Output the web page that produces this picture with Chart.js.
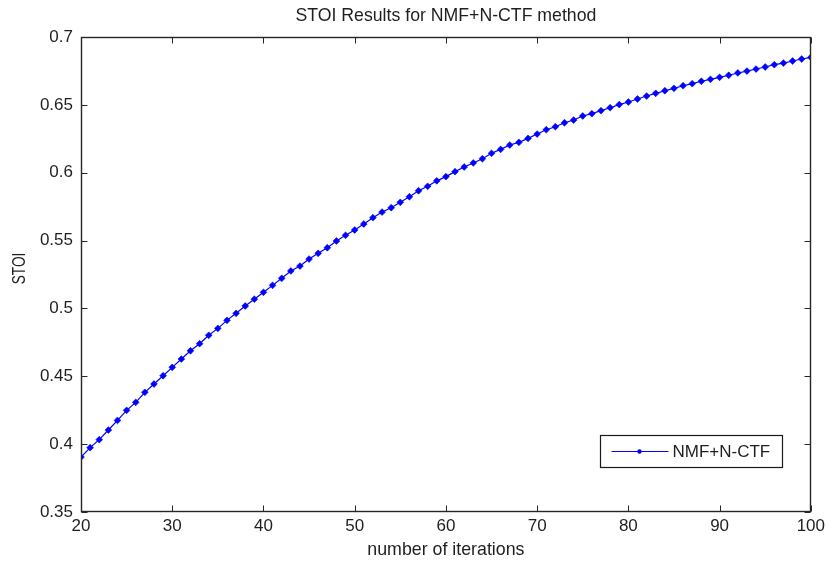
<!DOCTYPE html>
<html>
<head>
<meta charset="utf-8">
<script src="https://cdn.jsdelivr.net/npm/chart.js@4/dist/chart.umd.min.js"></script>
<style>
  html, body { margin: 0; padding: 0; background: #ffffff; }
  #wrap { width: 829px; height: 567px; }
</style>
</head>
<body>
<div id="wrap"><canvas id="c" width="829" height="567"></canvas></div>
<script>
const iterations = [20,21,22,23,24,25,26,27,28,29,30,31,32,33,34,35,36,37,38,39,40,41,42,43,44,45,46,47,48,49,50,51,52,53,54,55,56,57,58,59,60,61,62,63,64,65,66,67,68,69,70,71,72,73,74,75,76,77,78,79,80,81,82,83,84,85,86,87,88,89,90,91,92,93,94,95,96,97,98,99,100];
const stoiValues = [0.3905,0.3974,0.4033,0.4104,0.4175,0.4249,0.4308,0.4382,0.4443,0.4504,
  0.4566,0.4627,0.4688,0.4740,0.4802,0.4853,0.4912,0.4964,0.5018,0.5068,
  0.5119,0.5170,0.5222,0.5276,0.5312,0.5364,0.5406,0.5447,0.5497,0.5539,
  0.5578,0.5622,0.5669,0.5710,0.5742,0.5782,0.5823,0.5867,0.5900,0.5940,
  0.5971,0.6008,0.6042,0.6072,0.6103,0.6143,0.6172,0.6204,0.6224,0.6253,
  0.6285,0.6317,0.6339,0.6368,0.6388,0.6418,0.6435,0.6457,0.6479,0.6502,
  0.6521,0.6543,0.6565,0.6585,0.6604,0.6622,0.6641,0.6656,0.6674,0.6688,
  0.6703,0.6718,0.6735,0.6749,0.6764,0.6779,0.6796,0.6808,0.6823,0.6838,
  0.6850];
const xTicks = [20,30,40,50,60,70,80,90,100];
const yTicks = [0.35,0.4,0.45,0.5,0.55,0.6,0.65,0.7];
const seriesLabel = 'NMF+N-CTF';
const chartTitle = 'STOI Results for NMF+N-CTF method';
const xTitle = 'number of iterations';
const yTitle = 'STOI';

const FONT = 'Arial, "Liberation Sans", Helvetica, sans-serif';
const TEXT = '#1f1f1f';
const AXIS = '#262626';

const points = iterations.map((x, i) => ({ x: x, y: stoiValues[i] }));

const boxPlugin = {
  id: 'matlabBox',
  afterDraw(chart) {
    const ctx = chart.ctx;
    const a = chart.chartArea;
    const xs = chart.scales.x, ys = chart.scales.y;
    const L = Math.round(a.left) + 0.5, R = Math.round(a.right) - 0.5;
    const T = Math.round(a.top) + 0.5, B = Math.round(a.bottom) - 0.5;
    const tl = 6;
    ctx.save();
    // title centred over the axes
    ctx.fillStyle = TEXT;
    ctx.font = '17.7px ' + FONT;
    ctx.textAlign = 'center';
    ctx.textBaseline = 'middle';
    ctx.fillText(chartTitle, (a.left + a.right) / 2, a.top - 21);

    // y-axis title (rotated)
    ctx.save();
    ctx.translate(20, (a.top + a.bottom) / 2 - 6);
    ctx.rotate(-Math.PI / 2);
    ctx.scale(0.78, 1);
    ctx.font = '17.5px ' + FONT;
    ctx.fillText(yTitle, 0, 0);
    ctx.restore();

    ctx.strokeStyle = AXIS;
    ctx.lineWidth = 1;
    ctx.beginPath();
    xTicks.forEach(v => {
      const px = Math.round(xs.getPixelForValue(v)) + 0.5;
      ctx.moveTo(px, B); ctx.lineTo(px, B - tl);
      ctx.moveTo(px, T); ctx.lineTo(px, T + tl);
    });
    yTicks.forEach(v => {
      const py = Math.round(ys.getPixelForValue(v)) + 0.5;
      ctx.moveTo(L, py); ctx.lineTo(L + tl, py);
      ctx.moveTo(R, py); ctx.lineTo(R - tl, py);
    });
    ctx.stroke();
    ctx.lineWidth = 1.4;
    ctx.strokeRect(L, T, R - L, B - T);

    // legend box inside the axes (lower right)
    const ds = chart.data.datasets[0];
    const bw = 182, bh = 32;
    const bx = Math.round(a.right) - 29 - bw + 0.5;
    const by = Math.round(a.bottom) - 45 - bh + 0.5;
    ctx.fillStyle = '#ffffff';
    ctx.fillRect(bx, by, bw, bh);
    ctx.lineWidth = 1.2;
    ctx.strokeStyle = '#1a1a1a';
    ctx.strokeRect(bx, by, bw, bh);
    const cy = by + bh / 2;
    ctx.strokeStyle = ds.borderColor;
    ctx.lineWidth = 1;
    ctx.beginPath();
    ctx.moveTo(bx + 11, cy); ctx.lineTo(bx + 68, cy);
    ctx.stroke();
    ctx.fillStyle = ds.pointBackgroundColor;
    ctx.beginPath(); ctx.arc(bx + 39, cy, 2.2, 0, Math.PI * 2); ctx.fill();
    ctx.fillStyle = TEXT;
    ctx.font = '17px ' + FONT;
    ctx.textAlign = 'left';
    ctx.textBaseline = 'middle';
    ctx.fillText(ds.label, bx + 72, cy + 1);
    ctx.restore();
  }
};

new Chart(document.getElementById('c'), {
  type: 'line',
  data: {
    datasets: [{
      label: seriesLabel,
      data: points,
      borderColor: '#0000ff',
      backgroundColor: '#0000ff',
      pointBackgroundColor: '#0000ff',
      pointBorderColor: '#0000ff',
      borderWidth: 1.2,
      pointStyle: 'rectRot',
      pointRadius: 3.4,
      pointBorderWidth: 0.6,
      tension: 0,
      fill: false
    }]
  },
  options: {
    responsive: false,
    devicePixelRatio: 1,
    animation: false,
    events: [],
    layout: { padding: { left: 0, right: 17, top: 37, bottom: 0 } },
    plugins: {
      legend: { display: false },
      tooltip: { enabled: false },
      title: { display: false }
    },
    scales: {
      x: {
        type: 'linear',
        min: 20, max: 100,
        afterBuildTicks(s) { s.ticks = xTicks.map(v => ({ value: v })); },
        afterFit(s) { s.height = 55; },
        grid: { display: false, drawTicks: false },
        border: { display: false },
        ticks: {
          color: TEXT, padding: 4, maxRotation: 0, autoSkip: false,
          font: { family: FONT, size: 17 },
          callback: v => String(v)
        },
        title: {
          display: true, text: xTitle, color: TEXT,
          font: { family: FONT, size: 17.8 },
          padding: { top: 0, bottom: 6 }
        }
      },
      y: {
        type: 'linear',
        min: 0.35, max: 0.7,
        afterBuildTicks(s) { s.ticks = yTicks.map(v => ({ value: v })); },
        afterFit(s) { s.width = 81; },
        grid: { display: false, drawTicks: false },
        border: { display: false },
        ticks: {
          color: TEXT, padding: 8, autoSkip: false,
          font: { family: FONT, size: 17 },
          callback: v => String(Number(v.toFixed(2)))
        },
        title: { display: false }
      }
    }
  },
  plugins: [boxPlugin]
});
</script>
</body>
</html>
